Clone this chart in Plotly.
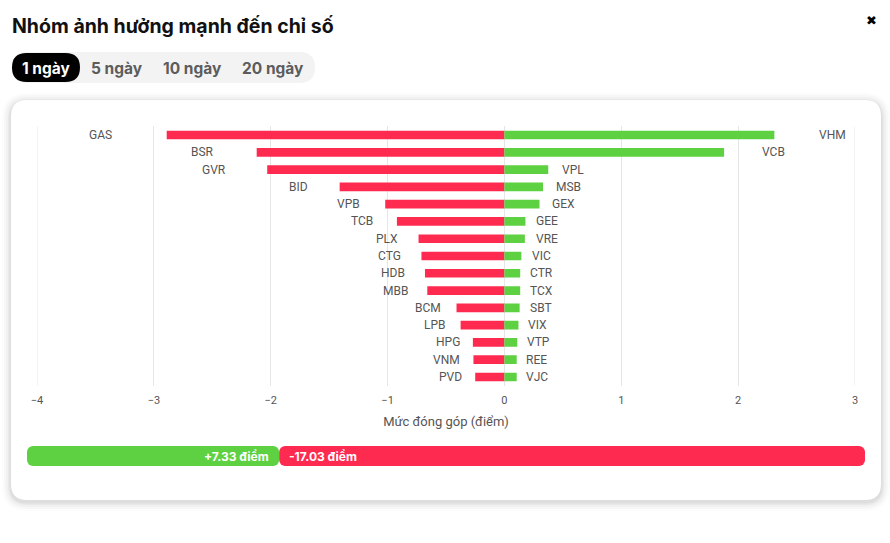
import plotly.graph_objects as go

# ---------------- data ----------------
neg_names = ["GAS", "BSR", "GVR", "BID", "VPB", "TCB", "PLX", "CTG", "HDB", "MBB",
             "BCM", "LPB", "HPG", "VNM", "PVD"]
neg_values = [-2.89, -2.12, -2.03, -1.41, -1.02, -0.92, -0.735, -0.71, -0.68, -0.66,
              -0.41, -0.375, -0.27, -0.265, -0.25]
pos_names = ["VHM", "VCB", "VPL", "MSB", "GEX", "GEE", "VRE", "VIC", "CTR", "TCX",
             "SBT", "VIX", "VTP", "REE", "VJC"]
pos_values = [2.31, 1.88, 0.375, 0.33, 0.30, 0.18, 0.175, 0.145, 0.135, 0.135,
              0.13, 0.12, 0.11, 0.105, 0.105]
x_tick_vals = [-4, -3, -2, -1, 0, 1, 2, 3]
x_tick_text = ["−4", "−3", "−2", "−1", "0", "1", "2", "3"]
total_pos = 7.33
total_neg = 17.03
periods = ["1 ngày", "5 ngày", "10 ngày", "20 ngày"]
title_text = "Nhóm ảnh hưởng mạnh đến chỉ số"
axis_title = "Mức đóng góp (điểm)"

# ---------------- style ----------------
W, H = 890, 543
GREEN = "#5ed142"
RED = "#ff2a50"
GRID = "#e6e6e6"
LABEL = "#555555"
rows = list(range(len(neg_names)))
PLOT_TOP, PLOT_BOTTOM = 126.4, 385.6


def px(x):
    return x / W


def py(y):
    return 1 - y / H


def rrect(x0, y0, x1, y1, r):
    """rounded rectangle path (pixel coords -> paper coords)"""
    def P(x, y):
        return f"{px(x):.5f},{py(y):.5f}"
    return " ".join([
        f"M{P(x0 + r, y0)}", f"L{P(x1 - r, y0)}", f"Q{P(x1, y0)} {P(x1, y0 + r)}",
        f"L{P(x1, y1 - r)}", f"Q{P(x1, y1)} {P(x1 - r, y1)}", f"L{P(x0 + r, y1)}",
        f"Q{P(x0, y1)} {P(x0, y1 - r)}", f"L{P(x0, y0 + r)}", f"Q{P(x0, y0)} {P(x0 + r, y0)}",
        "Z"])


fig = go.Figure()

# main bars
fig.add_trace(go.Bar(y=rows, x=neg_values, orientation="h", width=0.5,
                     marker=dict(color=RED, line=dict(width=0)),
                     xaxis="x", yaxis="y", hoverinfo="skip", showlegend=False))
fig.add_trace(go.Bar(y=rows, x=pos_values, orientation="h", width=0.5,
                     marker=dict(color=GREEN, line=dict(width=0)),
                     xaxis="x", yaxis="y", hoverinfo="skip", showlegend=False))

# summary bar
fig.add_trace(go.Bar(y=[0], x=[-total_pos], base=[total_pos], orientation="h", width=1,
                     marker=dict(color=GREEN, cornerradius=6, line=dict(width=0)),
                     xaxis="x2", yaxis="y2", hoverinfo="skip", showlegend=False))
fig.add_trace(go.Bar(y=[0], x=[total_neg], base=[total_pos], orientation="h", width=1,
                     marker=dict(color=RED, cornerradius=6, line=dict(width=0)),
                     xaxis="x2", yaxis="y2", hoverinfo="skip", showlegend=False))

annotations = []
LABEL_FACTOR = 1.135
for name, v, i in zip(neg_names, neg_values, rows):
    annotations.append(dict(x=v * LABEL_FACTOR, y=i, xref="x", yref="y", text=name,
                            showarrow=False, xanchor="right", yanchor="middle", xshift=-7,
                            font=dict(family="Roboto", size=12, color=LABEL)))
for name, v, i in zip(pos_names, pos_values, rows):
    annotations.append(dict(x=v * LABEL_FACTOR, y=i, xref="x", yref="y", text=name,
                            showarrow=False, xanchor="left", yanchor="middle", xshift=6,
                            font=dict(family="Roboto", size=12, color=LABEL)))

# summary bar texts
annotations.append(dict(x=total_pos, y=0, xref="x2", yref="y2",
                        text=f"<b>+{total_pos:.2f} điểm</b>", showarrow=False,
                        xanchor="right", yanchor="middle", xshift=-8,
                        font=dict(family="Inter", size=12, color="white")))
annotations.append(dict(x=total_pos, y=0, xref="x2", yref="y2",
                        text=f"<b>-{total_neg:.2f} điểm</b>", showarrow=False,
                        xanchor="left", yanchor="middle", xshift=8,
                        font=dict(family="Inter", size=12, color="white")))

# title & close
annotations.append(dict(x=px(10), y=py(26), xref="paper", yref="paper",
                        text=f"<b>{title_text}</b>", showarrow=False,
                        xanchor="left", yanchor="middle",
                        font=dict(family="Inter", size=19.5, color="#111111")))
annotations.append(dict(x=px(871), y=py(20), xref="paper", yref="paper",
                        text="✖", showarrow=False, xanchor="center", yanchor="middle",
                        font=dict(family="DejaVu Sans", size=13, color="#000000")))

# tabs
tab_centers = [46, 117, 192, 273]
for i, (t, cx) in enumerate(zip(periods, tab_centers)):
    annotations.append(dict(x=px(cx), y=py(68), xref="paper", yref="paper",
                            text=f"<b>{t}</b>", showarrow=False,
                            xanchor="center", yanchor="middle",
                            font=dict(family="Inter", size=15.5,
                                      color="white" if i == 0 else "#5c5c5c")))

shapes = []
# card shadow
for k, op in [(9, 0.012), (7, 0.018), (5, 0.025), (3, 0.035), (1.5, 0.045)]:
    shapes.append(dict(type="path", xref="paper", yref="paper", layer="below",
                       path=rrect(11 - k, 100 - k + 2, 881 + k, 500 + k + 2, 16 + k),
                       fillcolor=f"rgba(0,0,0,{op})", line=dict(width=0)))
shapes.append(dict(type="path", xref="paper", yref="paper", layer="below",
                   path=rrect(11, 100, 881, 500, 16), fillcolor="white", line=dict(width=0)))
# tab pills
shapes.append(dict(type="path", xref="paper", yref="paper", layer="below",
                   path=rrect(12, 52, 315, 83, 15.5), fillcolor="#f3f3f3", line=dict(width=0)))
shapes.append(dict(type="path", xref="paper", yref="paper", layer="below",
                   path=rrect(12, 53, 80, 82, 14.5), fillcolor="#000000", line=dict(width=0)))
# gridlines at the axis ends (plotly clips these)
for tv in (x_tick_vals[0], x_tick_vals[-1]):
    shapes.append(dict(type="line", xref="x", yref="paper", layer="below",
                       x0=tv, x1=tv, y0=py(PLOT_BOTTOM), y1=py(PLOT_TOP),
                       line=dict(color=GRID, width=1)))

fig.update_layout(
    width=W, height=H,
    margin=dict(l=0, r=0, t=0, b=0, pad=0, autoexpand=False),
    paper_bgcolor="white", plot_bgcolor="rgba(0,0,0,0)",
    barmode="overlay",
    showlegend=False,
    annotations=annotations,
    shapes=shapes,
    xaxis=dict(domain=[px(37), px(855)], range=[-4, 3], anchor="y",
               tickvals=x_tick_vals, ticktext=x_tick_text,
               showgrid=True, gridcolor=GRID, gridwidth=1, zeroline=False,
               showline=False, ticks="", ticklabelstandoff=6, automargin=False,
               tickfont=dict(family="Roboto", size=11, color=LABEL),
               title=dict(text=axis_title, standoff=11,
                          font=dict(family="Roboto", size=13, color=LABEL)),
               fixedrange=True),
    yaxis=dict(domain=[py(PLOT_BOTTOM), py(PLOT_TOP)], range=[len(rows) - 0.5, -0.5],
               anchor="x", showgrid=False, zeroline=False, showticklabels=False,
               ticks="", fixedrange=True, automargin=False),
    xaxis2=dict(domain=[px(27), px(865)], range=[0, total_pos + total_neg], anchor="y2",
                visible=False, fixedrange=True),
    yaxis2=dict(domain=[py(466), py(446)], range=[-0.5, 0.5], anchor="x2",
                visible=False, fixedrange=True),
)

fig.write_html("out.html",
               post_script="document.body.style.margin='0';document.body.style.overflow='hidden';")
